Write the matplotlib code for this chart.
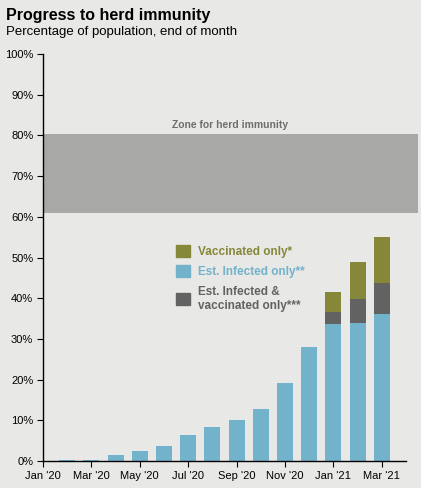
import numpy as np
import matplotlib.pyplot as plt
from matplotlib.patches import Patch

plt.rcParams['font.family'] = ['Liberation Sans', 'DejaVu Sans']

# month labels, one bar per month (Jan '20 .. Mar '21)
months = ["Jan '20", "Feb '20", "Mar '20", "Apr '20", "May '20", "Jun '20",
          "Jul '20", "Aug '20", "Sep '20", "Oct '20", "Nov '20", "Dec '20",
          "Jan '21", "Feb '21", "Mar '21"]

# percentage of population, end of month
infected_only = [0.0, 0.3, 0.3, 1.5, 2.5, 3.7, 6.4, 8.3, 10.1, 12.8, 19.2, 28.0, 33.7, 33.9, 36.1]
infected_and_vacc = [0, 0, 0, 0, 0, 0, 0, 0, 0, 0, 0, 0, 2.9, 5.9, 7.6]
vaccinated_only = [0, 0, 0, 0, 0, 0, 0, 0, 0, 0, 0, 0, 4.9, 9.1, 11.3]

zone_low, zone_high = 61.0, 80.4

bg = '#e8e8e6'
c_blue = '#72b2cb'
c_olive = '#858838'
c_dark = '#626262'
c_zone = '#a8a8a6'

fig = plt.figure(figsize=(4.21, 4.88), dpi=100, facecolor=bg)
ax = fig.add_axes([43 / 421, 1 - 461 / 488, 375 / 421, 407 / 488])
ax.set_facecolor(bg)

x = np.arange(len(months))
w = 0.66
inf = np.array(infected_only)
both = np.array(infected_and_vacc)
vac = np.array(vaccinated_only)

# herd immunity band
ax.axhspan(zone_low, zone_high, color=c_zone, lw=0, zorder=1)
ax.text(7.75, zone_high + 1.0, 'Zone for herd immunity', ha='center', va='bottom',
        fontsize=7.5, fontweight='bold', color='#6e6e6e')

ax.bar(x, inf, width=w, color=c_blue, zorder=2)
ax.bar(x, both, width=w, bottom=inf, color=c_dark, zorder=2)
ax.bar(x, vac, width=w, bottom=inf + both, color=c_olive, zorder=2)

ax.set_xlim(0, 15.5)
ax.set_ylim(0, 100)
ax.set_xticks(x[::2])
ax.set_xticklabels(months[::2], fontsize=8)
ax.set_yticks(np.arange(0, 101, 10))
ax.set_yticklabels([f'{v}%' for v in range(0, 101, 10)], fontsize=8)
ax.tick_params(axis='both', direction='out', length=4, width=0.8, color='black', pad=3)
for s in ['top', 'right']:
    ax.spines[s].set_visible(False)
ax.spines['bottom'].set_bounds(0, 15)
ax.spines['left'].set_linewidth(1.0)
ax.spines['bottom'].set_linewidth(1.0)

handles = [Patch(color=c_olive), Patch(color=c_blue), Patch(color=c_dark)]
labels = ['Vaccinated only*', 'Est. Infected only**', 'Est. Infected &\nvaccinated only***']
leg = ax.legend(handles, labels, loc='upper left', bbox_to_anchor=(176 / 421, 1 - 245 / 488),
                bbox_transform=fig.transFigure, frameon=False,
                prop={'weight': 'bold', 'size': 8.5}, labelcolor=[c_olive, c_blue, c_dark],
                handlelength=1.2, handleheight=1.2, handletextpad=0.65, labelspacing=0.62,
                borderpad=0, borderaxespad=0)

fig.text(6 / 421, 1 - 20 / 488, 'Progress to herd immunity', fontsize=11.5, fontweight='bold',
         ha='left', va='baseline')
fig.text(6 / 421, 1 - 35 / 488, 'Percentage of population, end of month', fontsize=9.5,
         ha='left', va='baseline')

fig.savefig('out.png', dpi=100, facecolor=bg)
